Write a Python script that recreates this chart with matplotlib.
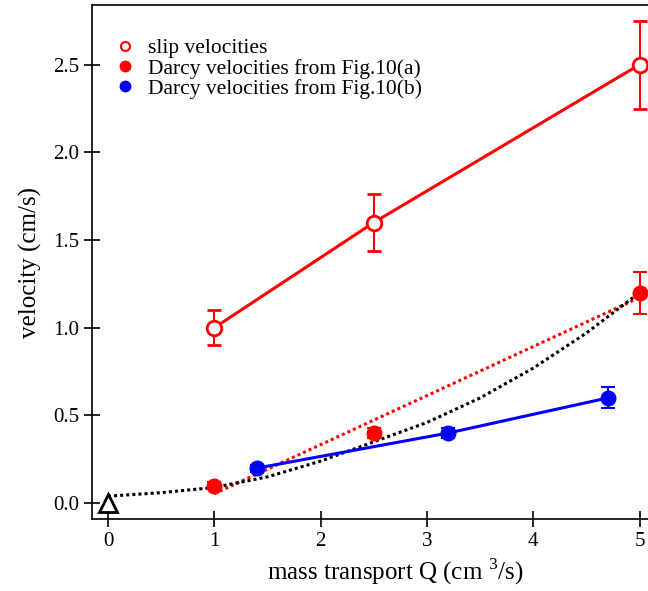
import numpy as np
import matplotlib
matplotlib.use("Agg")
import matplotlib.pyplot as plt
from matplotlib.lines import Line2D

plt.rcParams['font.family'] = ['Liberation Serif', 'DejaVu Serif']
plt.rcParams['mathtext.fontset'] = 'custom'
plt.rcParams['mathtext.rm'] = 'Liberation Serif'

# slip velocities (open red circles)
slip_q = [1.0, 2.5, 5.0]
slip_v = [1.0, 1.6, 2.5]
slip_err = [0.1, 0.16, 0.25]

# Darcy velocities from Fig.10(a)
darcy_a_q = [1.0, 2.5, 5.0]
darcy_a_v = [0.1, 0.4, 1.2]
darcy_a_err = [0.02, 0.03, 0.12]

# Darcy velocities from Fig.10(b)
darcy_b_q = [1.4, 3.2, 4.7]
darcy_b_v = [0.2, 0.4, 0.6]
darcy_b_err = [0.02, 0.03, 0.06]

# black dotted curve
curve_q = [0, 0.5, 1, 1.5, 2, 2.5, 3, 3.5, 4, 4.5, 5]
curve_v = [0.04, 0.06, 0.09, 0.15, 0.24, 0.35, 0.46, 0.60, 0.77, 0.97, 1.2]

origin_q = [0]
origin_v = [0]

fig = plt.figure(figsize=(6.48, 5.91), dpi=100)
ax = fig.add_axes([92 / 648, 72 / 591, 606 / 648, 514 / 591])

lw = 2.2
ms = 10.5

# linear fit to Darcy(a)
p = np.polyfit(darcy_a_q, darcy_a_v, 1)
fit_q = np.array([darcy_a_q[0], darcy_a_q[-1]])
ax.plot(fit_q, np.polyval(p, fit_q), color='red', lw=lw, ls=(0, (1, 1)), zorder=2)

ax.plot(curve_q, curve_v, color='black', lw=lw, ls=(0, (1, 1)), zorder=2)

ax.errorbar(darcy_b_q, darcy_b_v, yerr=darcy_b_err, color='blue', lw=lw,
            marker='o', ms=ms, elinewidth=1.5, capsize=5, capthick=1.5, zorder=3)
ax.errorbar(darcy_a_q, darcy_a_v, yerr=darcy_a_err, color='red', ls='none',
            marker='o', ms=ms, elinewidth=1.5, capsize=5, capthick=1.5, zorder=3)
ax.errorbar(slip_q, slip_v, yerr=slip_err, color='red', lw=lw,
            marker='o', ms=ms, mfc='white', mew=2, elinewidth=1.5,
            capsize=5, capthick=1.5, zorder=3)

ax.plot(origin_q, origin_v, ls='none', marker='^', ms=13, mfc='white',
        mec='black', mew=2, zorder=4)

ax.set_xlim(-0.15, 5.55)
ax.set_ylim(-0.09, 2.84)
ax.set_xticks([0, 1, 2, 3, 4, 5])
ax.set_yticks([0, 0.5, 1.0, 1.5, 2.0, 2.5])
ax.set_yticklabels(['0.0', '0.5', '1.0', '1.5', '2.0', '2.5'])
ax.tick_params(direction='inout', length=11, width=1.2, labelsize=15)
ax.tick_params(axis='x', pad=4)
ax.spines['right'].set_visible(False)
for s in ['left', 'bottom', 'top']:
    ax.spines[s].set_linewidth(1.2)

ax.set_xlabel('mass transport Q (cm $^{3}$/s)', fontsize=18, labelpad=4)
ax.set_ylabel('velocity (cm/s)', fontsize=18, labelpad=8)

handles = [
    Line2D([], [], ls='none', marker='o', ms=6.5, mfc='white', mec='red', mew=1.5),
    Line2D([], [], ls='none', marker='o', ms=7.5, color='red'),
    Line2D([], [], ls='none', marker='o', ms=7.5, color='blue'),
]
labels = ['slip velocities', 'Darcy velocities from Fig.10(a)',
          'Darcy velocities from Fig.10(b)']
ax.legend(handles, labels, loc='upper left', bbox_to_anchor=(0.033, 0.935),
          frameon=False, fontsize=15.5, handlelength=1.2, handletextpad=0.45,
          labelspacing=0.0, borderaxespad=0, borderpad=0)

fig.savefig('out.png', dpi=100)
